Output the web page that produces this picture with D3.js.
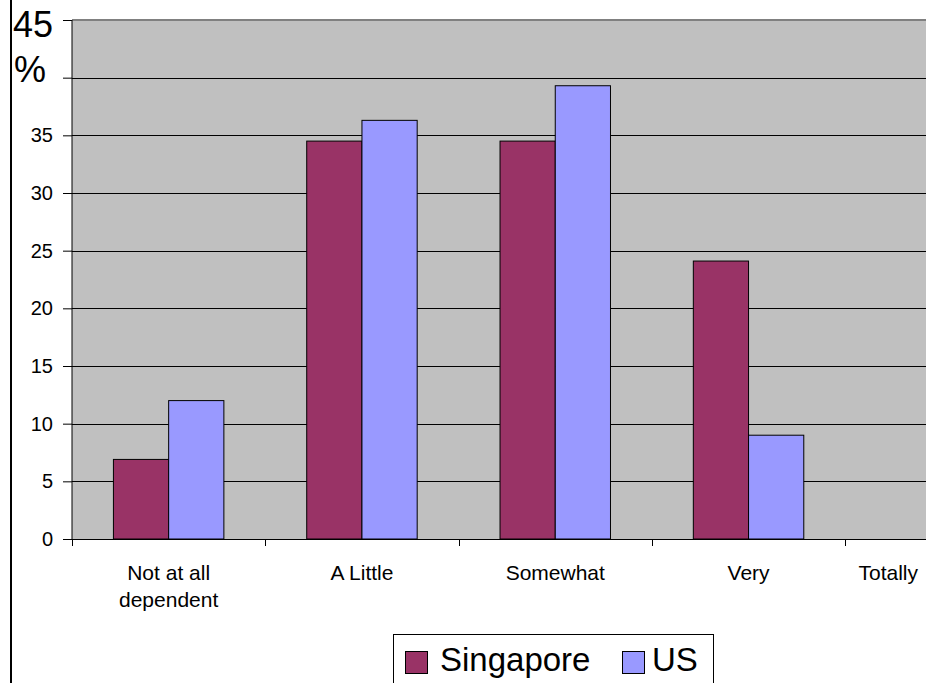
<!DOCTYPE html>
<html>
<head>
<meta charset="utf-8">
<script src="https://cdn.jsdelivr.net/npm/d3@7"></script>
<style>
  html, body { margin: 0; padding: 0; background: #fff; }
  svg { display: block; font-family: "Liberation Sans", Arial, sans-serif; }
</style>
</head>
<body>
<svg id="chart" width="926" height="683"></svg>
<script>
// Dependence levels, share of respondents (%)
const categories = [["Not at all", "dependent"], ["A Little"], ["Somewhat"], ["Very"], ["Totally"]];
const seriesNames = ["Singapore", "US"];
const singapore = [6.9, 34.5, 34.5, 24.1, null];
const us = [12.0, 36.3, 39.3, 9.0, null];
const yTicks = [0, 5, 10, 15, 20, 25, 30, 35, 40, 45];
const yTickLabels = ["0", "5", "10", "15", "20", "25", "30", "35"];
const colors = ["#993366", "#9999FF"];

const W = 926, H = 683;
const svg = d3.select("#chart");

const plot = { left: 72, top: 20, bottom: 539, band: 193.3 };
plot.right = plot.left + plot.band * categories.length;

const x = d3.scaleBand()
  .domain(d3.range(categories.length))
  .range([plot.left, plot.right])
  .paddingInner(0).paddingOuter(0);

const xSub = d3.scaleBand()
  .domain(d3.range(seriesNames.length))
  .range([0, x.bandwidth()])
  .paddingInner(0).paddingOuter(0.75);

const y = d3.scaleLinear().domain([0, 45]).range([plot.bottom, plot.top]);

// chart frame edge on the left
svg.append("line")
  .attr("x1", 11).attr("x2", 11).attr("y1", 0).attr("y2", H)
  .attr("stroke", "#000").attr("stroke-width", 2);

// plot background
svg.append("rect")
  .attr("x", plot.left).attr("y", plot.top)
  .attr("width", plot.right - plot.left).attr("height", plot.bottom - plot.top)
  .attr("fill", "#C0C0C0");

// horizontal gridlines
svg.append("g").selectAll("line")
  .data(yTicks.filter(t => t > 0 && t < 45))
  .join("line")
  .attr("x1", plot.left).attr("x2", plot.right)
  .attr("y1", d => Math.round(y(d)) + 0.5).attr("y2", d => Math.round(y(d)) + 0.5)
  .attr("stroke", "#000").attr("stroke-width", 1);

// top border of the plot area
svg.append("line")
  .attr("x1", plot.left).attr("x2", plot.right)
  .attr("y1", plot.top).attr("y2", plot.top)
  .attr("stroke", "#808080").attr("stroke-width", 2);

// bars
const rows = categories.map((c, i) => ({ i, vals: [singapore[i], us[i]] }));
const groups = svg.append("g").selectAll("g")
  .data(rows).join("g")
  .attr("transform", d => `translate(${x(d.i)},0)`);

groups.selectAll("rect")
  .data(d => d.vals.map((v, s) => ({ v, s })).filter(e => e.v != null))
  .join("rect")
  .attr("x", e => xSub(e.s))
  .attr("y", e => y(e.v))
  .attr("width", xSub.bandwidth())
  .attr("height", e => y(0) - y(e.v))
  .attr("fill", e => colors[e.s])
  .attr("stroke", "#000").attr("stroke-width", 1);

// y axis
const yAxis = d3.axisLeft(y).tickValues(yTicks).tickSize(9).tickFormat("");
const yg = svg.append("g").attr("transform", `translate(${plot.left},0)`).call(yAxis);
yg.select(".domain").attr("stroke", "#000").attr("d", `M0,${plot.top}V${plot.bottom}`);
yg.selectAll(".tick line").attr("stroke", "#000");

// y tick labels
svg.append("g").selectAll("text")
  .data(yTickLabels)
  .join("text")
  .attr("x", 53).attr("y", d => y(+d))
  .attr("dy", "0.35em")
  .attr("text-anchor", "end")
  .attr("font-size", 20)
  .attr("fill", "#000")
  .text(d => d);

// top tick label with unit
const topLabel = svg.append("text")
  .attr("x", 13).attr("y", 37)
  .attr("font-size", 36).attr("fill", "#000");
topLabel.append("tspan").attr("x", 13).text("45");
topLabel.append("tspan").attr("x", 14).attr("dy", 45).text("%");

// x axis
const xg = svg.append("g").attr("transform", `translate(0,${plot.bottom})`);
xg.append("path").attr("stroke", "#000").attr("fill", "none")
  .attr("d", `M${plot.left},0.5H${plot.right}`);
// tick marks at band boundaries
xg.selectAll(".bound")
  .data(d3.range(categories.length + 1))
  .join("line")
  .attr("x1", i => Math.round(plot.left + i * x.step()) + 0.5)
  .attr("x2", i => Math.round(plot.left + i * x.step()) + 0.5)
  .attr("y1", 0).attr("y2", 7)
  .attr("stroke", "#000");

// category labels
const catLabels = svg.append("g").selectAll("text")
  .data(categories.map((c, i) => ({ c, i })))
  .join("text")
  .attr("text-anchor", "middle")
  .attr("font-size", 21)
  .attr("fill", "#000")
  .attr("y", 580);

catLabels.each(function (d) {
  const t = d3.select(this);
  d.c.forEach((line, k) => {
    t.append("tspan").attr("dy", k === 0 ? 0 : 27).text(line);
  });
  // keep the label inside the drawing
  const w = d3.max(d.c, (l, k) => this.childNodes[k].getComputedTextLength());
  const cx = Math.min(x(d.i) + x.bandwidth() / 2, W - 8 - w / 2);
  t.selectAll("tspan").attr("x", cx);
});

// legend
const legend = svg.append("g");
legend.append("rect")
  .attr("x", 393.5).attr("y", 634.5).attr("width", 320).attr("height", 60)
  .attr("fill", "#fff").attr("stroke", "#000").attr("stroke-width", 1);

const legendItems = [
  { name: seriesNames[0], color: colors[0], sx: 405, tx: 440 },
  { name: seriesNames[1], color: colors[1], sx: 622, tx: 652 }
];
legendItems.forEach(it => {
  legend.append("rect")
    .attr("x", it.sx + 0.5).attr("y", 651.5).attr("width", 22).attr("height", 22)
    .attr("fill", it.color).attr("stroke", "#000").attr("stroke-width", 1);
  legend.append("text")
    .attr("x", it.tx).attr("y", 671)
    .attr("font-size", 33).attr("fill", "#000")
    .text(it.name);
});
</script>
</body>
</html>
